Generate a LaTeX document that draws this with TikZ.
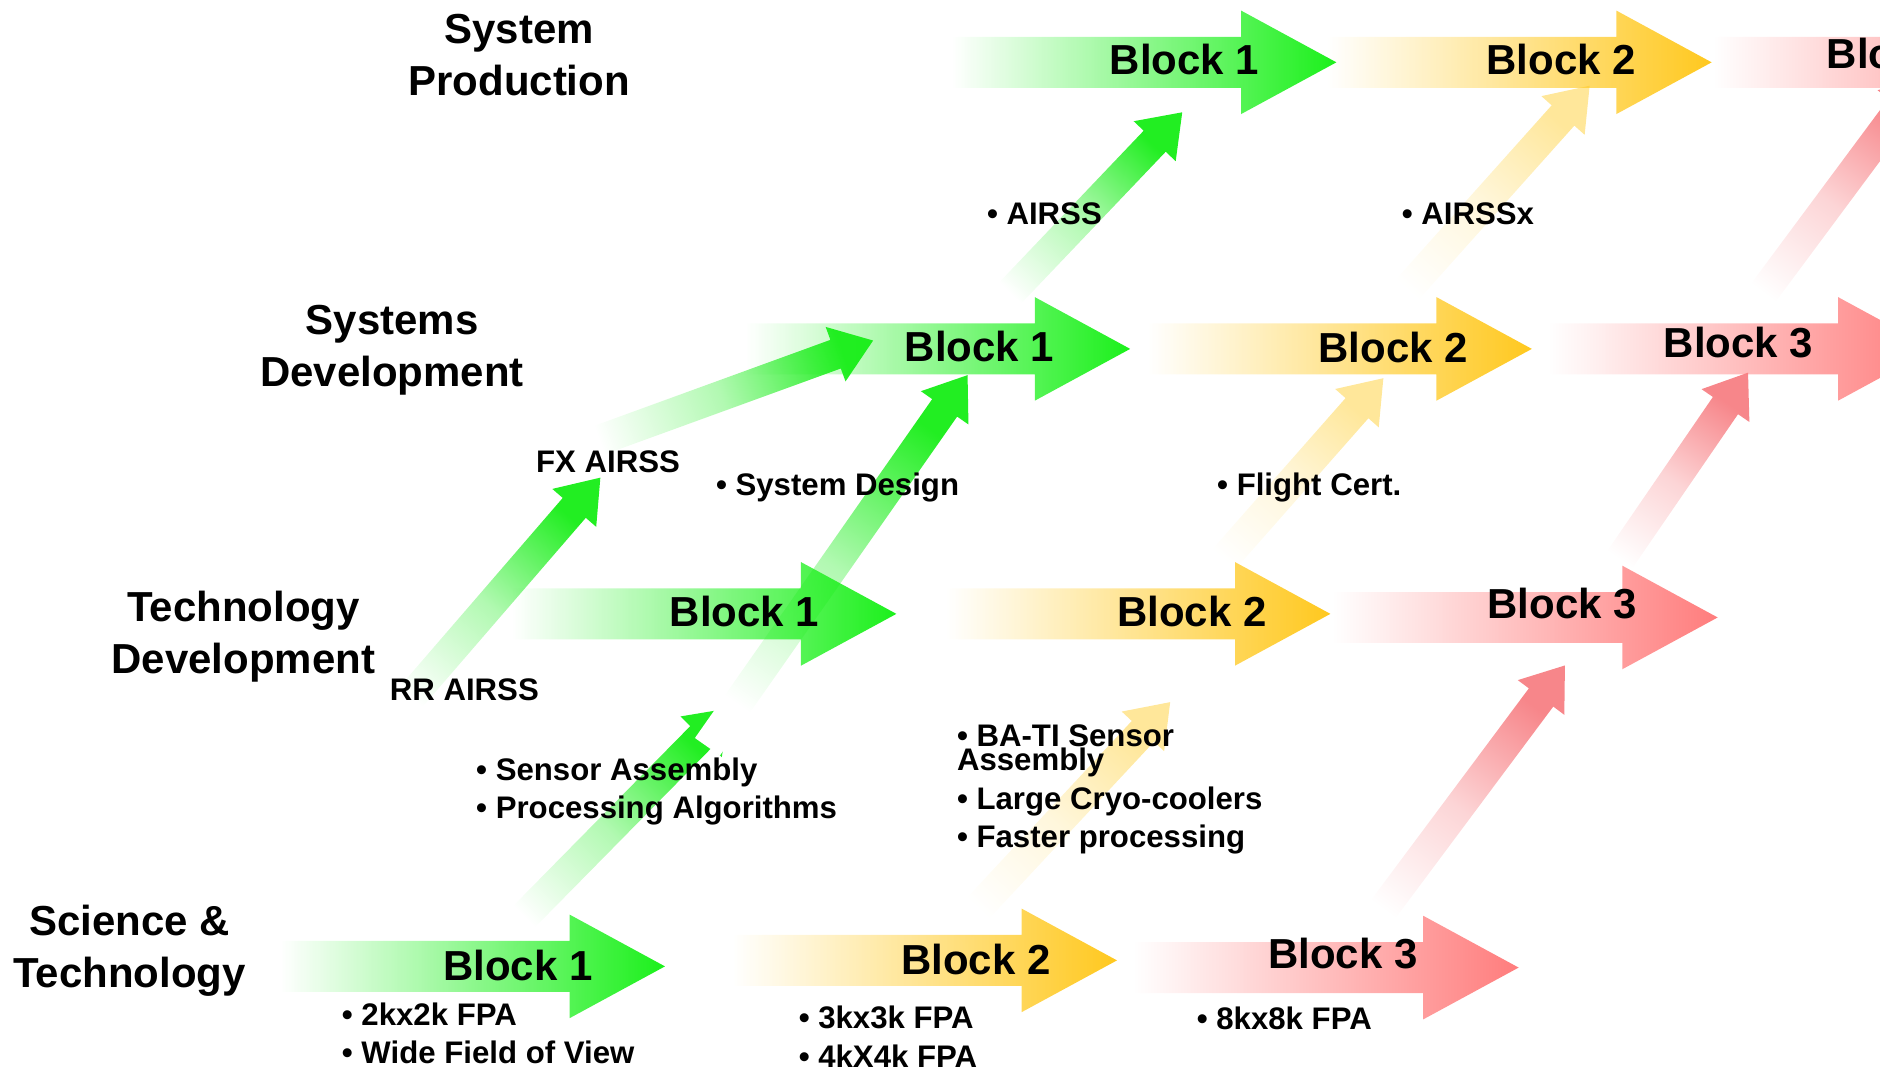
\documentclass[tikz,border=0pt]{standalone}
\usepackage{fontspec}
\setmainfont{Liberation Sans}
\usetikzlibrary{shapes.arrows, calc, positioning, fadings}
\definecolor{BlockGreen}{HTML}{1BF01B}
\definecolor{BlockGold}{HTML}{FFC81E}
\definecolor{BlockRed}{HTML}{FF7C7C}
\definecolor{RiseGreen}{HTML}{22EE22}
\definecolor{RiseGold}{HTML}{FFE79A}
\definecolor{RiseRed}{HTML}{F7868A}

\tikzfading[name=block fade, left color=transparent!100, middle color=transparent!76, right color=transparent!0]

% diagonal arrow from one stage to the next: name, tail, tip, colour
\newcommand{\riser}[4]{%
  \path let \p1=(#2), \p2=(#3),
    \n1={atan2(\y2-\y1,\x2-\x1)}, \n2={veclen(\x2-\x1,\y2-\y1)}, \n3={\n1-90} in
    node[riser, rotate=\n1, minimum height=\n2, bottom color=white, top color=#4,
         middle color=#4!35, shading angle=\n3] (#1) at ($(#2)!0.5!(#3)$) {};%
}

\begin{document}
\begin{tikzpicture}[
        x=1pt, y=-1pt,
        % Flechas horizontales
        blockarrow/.style={
                single arrow,
                single arrow head extend=22pt,
                single arrow tip angle=57,
                minimum height=320pt,
                inner xsep=0pt,
                inner ysep=21pt,
                anchor=tip,
                fill=#1,
                path fading=block fade
            },
        % Flechas diagonales
        riser/.style={
                single arrow,
                single arrow head extend=11.5pt,
                single arrow tip angle=72,
                inner xsep=0pt,
                inner ysep=12.5pt
            },
        % Textos
        blocktext/.style={
                font=\bfseries\fontsize{35}{43}\selectfont,
                inner sep=0pt
            },
        stagetext/.style={
                font=\bfseries\fontsize{35}{43}\selectfont,
                align=center,
                inner sep=0pt
            },
        notetext/.style={
                font=\bfseries\fontsize{26}{32}\selectfont,
                align=left,
                anchor=base west,
                inner sep=0pt
            }
    ]

    \useasboundingbox (0,0) rectangle (1568,893);
    \clip (0,0) rectangle (1568,893);

    % Extremos de las flechas diagonales
    \coordinate (rr-tail) at (318,610);   \coordinate (rr-tip) at (495,405);
    \coordinate (fx-tail) at (470,378);   \coordinate (fx-tip) at (720,287);
    \coordinate (sa-tail) at (410,792);   \coordinate (sa-tip) at (602,597);
    \coordinate (sd-tail) at (585,630);   \coordinate (sd-tip) at (802,320);
    \coordinate (ai-tail) at (820,268);   \coordinate (ai-tip) at (980,100);
    \coordinate (ba-tail) at (790,785);   \coordinate (ba-tip) at (970,592);
    \coordinate (fc-tail) at (1000,490);  \coordinate (fc-tip) at (1148,322);
    \coordinate (ax-tail) at (1150,268);  \coordinate (ax-tip) at (1320,78);
    \coordinate (r3a-tail) at (1130,790); \coordinate (r3a-tip) at (1300,562);
    \coordinate (r3b-tail) at (1335,490); \coordinate (r3b-tip) at (1453,318);
    \coordinate (r3c-tail) at (1450,272); \coordinate (r3c-tip) at (1600,70);

    % Flechas diagonales
    \riser{rise1}{rr-tail}{rr-tip}{RiseGreen}
    \riser{rise2}{fx-tail}{fx-tip}{RiseGreen}
    \riser{rise3}{sa-tail}{sa-tip}{RiseGreen}
    \riser{rise4}{sd-tail}{sd-tip}{RiseGreen}
    \riser{rise5}{ai-tail}{ai-tip}{RiseGreen}
    \riser{rise6}{ba-tail}{ba-tip}{RiseGold}
    \riser{rise7}{fc-tail}{fc-tip}{RiseGold}
    \riser{rise8}{ax-tail}{ax-tip}{RiseGold}
    \riser{rise9}{r3a-tail}{r3a-tip}{RiseRed}
    \riser{rise10}{r3b-tail}{r3b-tip}{RiseRed}
    \riser{rise11}{r3c-tail}{r3c-tip}{RiseRed}

    % Flechas horizontales
    \node[blockarrow=BlockGreen] (sp1) at (1115,52) {};
    \node[blockarrow=BlockGold] (sp2) at (1428,52) {};
    \node[blockarrow=BlockRed] (sp3) at (1750,52) {};
    \node[blockarrow=BlockGreen] (sd1) at (943,291) {};
    \node[blockarrow=BlockGold] (sd2) at (1278,291) {};
    \node[blockarrow=BlockRed] (sd3) at (1613,291) {};
    \node[blockarrow=BlockGreen] (td1) at (748,512) {};
    \node[blockarrow=BlockGold] (td2) at (1110,512) {};
    \node[blockarrow=BlockRed] (td3) at (1433,515) {};
    \node[blockarrow=BlockGreen] (st1) at (555,806) {};
    \node[blockarrow=BlockGold] (st2) at (932,801) {};
    \node[blockarrow=BlockRed] (st3) at (1267,807) {};

    % Etiquetas de bloques
    \node[blocktext] (sp1-l) at ([shift={(-127,-2)}]sp1.tip) {Block 1};
    \node[blocktext] (sp2-l) at ([shift={(-126,-2)}]sp2.tip) {Block 2};
    \node[blocktext] (sp3-l) at ([shift={(-164,-7)}]sp3.tip) {Block 3};
    \node[blocktext] (sd1-l) at ([shift={(-126,-2)}]sd1.tip) {Block 1};
    \node[blocktext] (sd2-l) at ([shift={(-116,-1)}]sd2.tip) {Block 2};
    \node[blocktext] (sd3-l) at ([shift={(-163,-5)}]sd3.tip) {Block 3};
    \node[blocktext] (td1-l) at ([shift={(-127,-2)}]td1.tip) {Block 1};
    \node[blocktext] (td2-l) at ([shift={(-116,-2)}]td2.tip) {Block 2};
    \node[blocktext] (td3-l) at ([shift={(-130,-12)}]td3.tip) {Block 3};
    \node[blocktext] (st1-l) at ([shift={(-123,-1)}]st1.tip) {Block 1};
    \node[blocktext] (st2-l) at ([shift={(-118,-1)}]st2.tip) {Block 2};
    \node[blocktext] (st3-l) at ([shift={(-147,-12)}]st3.tip) {Block 3};

    % Etapas
    \node[stagetext] (sp) at (433,46) {System\\Production};
    \node[stagetext] (sd) at (327,292) {Systems\\Development};
    \node[stagetext] (td) at (203,531) {Technology\\Development};
    \node[stagetext] (st) at (108,793) {Science \&\\Technology};

    % Notas (base = ultima linea)
    \node[notetext] (airss) at (823,187) {• AIRSS};
    \node[notetext] (airssx) at (1169,187) {• AIRSSx};
    \node[notetext] (fx) at (447,394) {FX AIRSS};
    \node[notetext] (sysdes) at (597,413) {• System Design};
    \node[notetext] (flight) at (1015,413) {• Flight Cert.};
    \node[notetext] (rr) at (325,584) {RR AIRSS};
    \node[notetext] (sensor) at (397,683) {• Sensor Assembly\\• Processing Algorithms};
    \node[notetext] (bati) at (798,707) {• BA-TI Sensor\\[-12pt]Assembly\\• Large Cryo-coolers\\• Faster processing};
    \node[notetext] (fpa2) at (285,887) {• 2kx2k FPA\\• Wide Field of View};
    \node[notetext] (fpa3) at (666,890) {• 3kx3k FPA\\• 4kX4k FPA};
    \node[notetext] (fpa8) at (998,859) {• 8kx8k FPA};

\end{tikzpicture}
\end{document}
